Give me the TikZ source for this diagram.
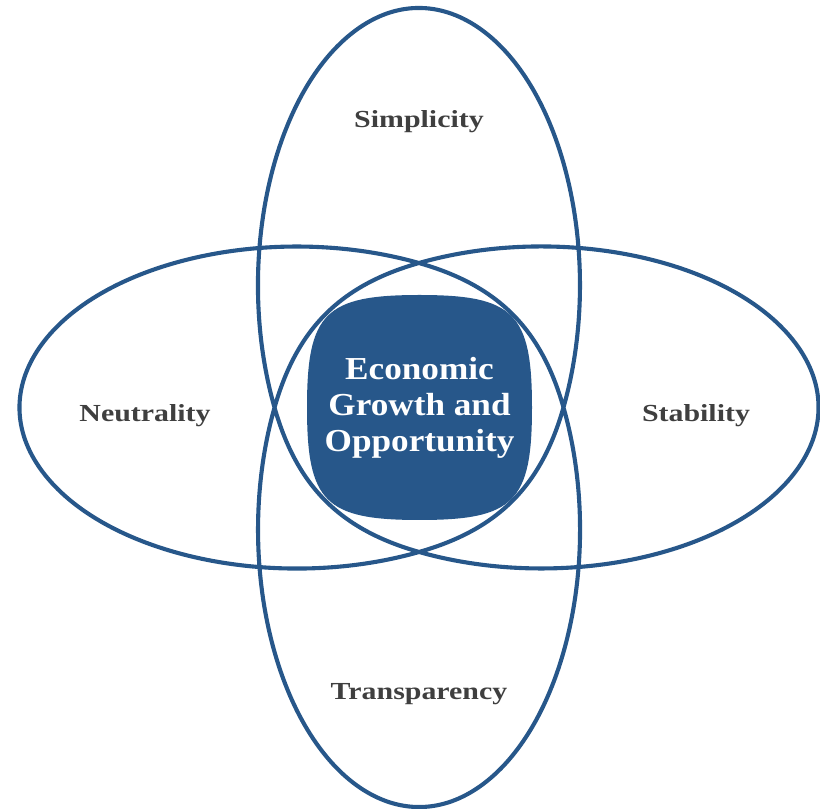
\documentclass[tikz,border=0pt]{standalone}
\usepackage{fontspec}
\newfontfamily\lblfont{Liberation Serif}[FakeStretch=1.22]
\newfontfamily\ctrfont{Liberation Serif}[FakeStretch=1.1]
\definecolor{navy}{HTML}{27578A}
\definecolor{lbl}{HTML}{3F3F3F}
\tikzset{
  ring/.style={draw=navy, line width=4.1pt, line join=round},
  lbltext/.style={font=\lblfont\bfseries\fontsize{24.5}{29}\selectfont, text=lbl, anchor=base, inner sep=0pt},
  ctrtext/.style={font=\ctrfont\bfseries\fontsize{32}{36}\selectfont, text=white, align=center, anchor=base, inner sep=0pt}
}
\begin{document}
\begin{tikzpicture}[x=1pt,y=1pt]
\useasboundingbox (0,0) rectangle (820,809);
% crossing points of the rosette
\coordinate (L) at (274.5,401.5);
\coordinate (T) at (419,546);
\coordinate (R) at (563.5,401.5);
\coordinate (B) at (419,257);
% central rounded shape
\fill[navy] (532,401.5) .. controls (532,496) and (514,514) .. (419.5,514)
  .. controls (325,514) and (307,496) .. (307,401.5)
  .. controls (307,307) and (325,289) .. (419.5,289)
  .. controls (514,289) and (532,307) .. (532,401.5) -- cycle;
% four overlapping ovals as one continuous line
\draw[ring] (L)
  arc[start angle=206.18, end angle=-26.18, x radius=161pt, y radius=277.2pt]
  .. controls (541.03,322.62) and (497.88,279.47) .. (B)
  arc[start angle=-63.82, end angle=-296.18, x radius=277.2pt, y radius=161pt]
  .. controls (497.88,523.53) and (541.03,480.38) .. (R)
  arc[start angle=26.18, end angle=-206.18, x radius=161pt, y radius=277.2pt]
  .. controls (296.97,480.38) and (340.12,523.53) .. (T)
  arc[start angle=116.18, end angle=-116.18, x radius=277.2pt, y radius=161pt]
  .. controls (340.12,279.47) and (296.97,322.62) .. (L) -- cycle;
% labels
\node[lbltext] (simp) at (419,681) {Simplicity};
\node[lbltext] (neut) at (145,387) {Neutrality};
\node[lbltext] (stab) at (696,387) {Stability};
\node[lbltext] (trans) at (419,109) {Transparency};
\node[ctrtext] (core) at (419.5,357) {Economic\\Growth and\\Opportunity};
\end{tikzpicture}
\end{document}
